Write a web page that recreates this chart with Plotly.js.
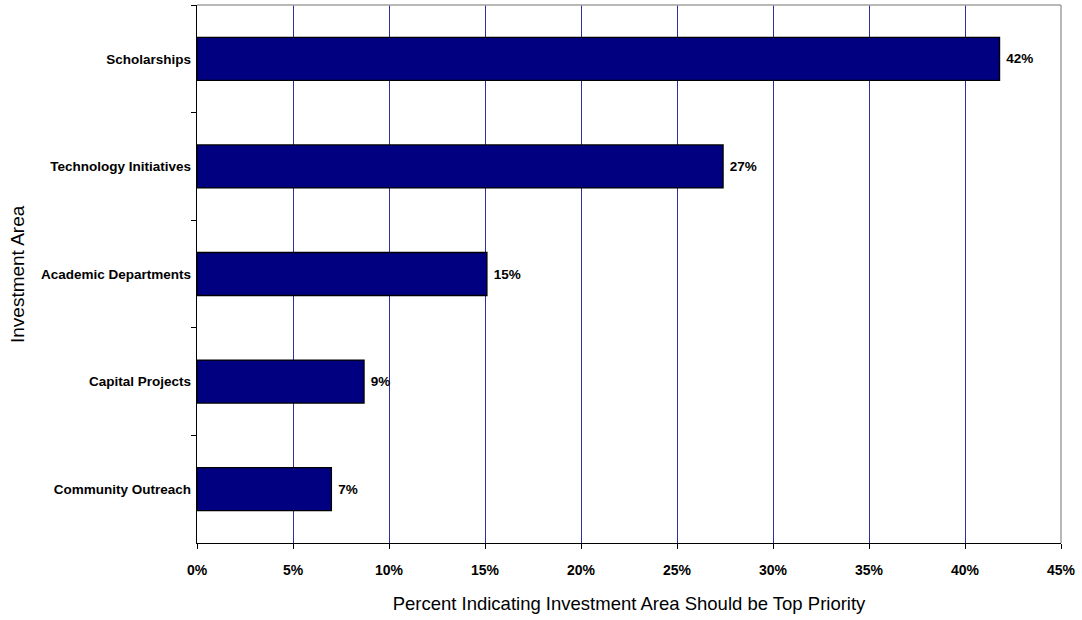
<!DOCTYPE html>
<html>
<head>
<meta charset="utf-8">
<script src="https://cdn.plot.ly/plotly-3.0.1.min.js"></script>
<style>
  html, body { margin: 0; padding: 0; background: #fff; }
  #chart { width: 1082px; height: 620px; }
</style>
</head>
<body>
<div id="chart"></div>
<script>
// Investment areas, top to bottom
const areas = [
  'Scholarships',
  'Technology Initiatives',
  'Academic Departments',
  'Capital Projects',
  'Community Outreach'
];
// Share of respondents naming each area as top priority
const shares = [0.418, 0.274, 0.151, 0.087, 0.070];
// Horizontal axis ticks
const tickValues = [0, 0.05, 0.10, 0.15, 0.20, 0.25, 0.30, 0.35, 0.40, 0.45];
const tickLabels = ['0%', '5%', '10%', '15%', '20%', '25%', '30%', '35%', '40%', '45%'];

const baseFont = 'Liberation Sans, Arial, sans-serif';

const trace = {
  type: 'bar',
  orientation: 'h',
  y: areas,
  x: shares,
  width: 0.4,
  marker: { color: '#000080', line: { color: '#000000', width: 1.3 } },
  texttemplate: '\u00a0%{x:.0%}',
  textposition: 'outside',
  cliponaxis: false,
  textfont: { family: baseFont, size: 13.5, color: '#000', weight: 'bold' },
  hoverinfo: 'skip'
};

const layout = {
  width: 1082,
  height: 620,
  margin: { l: 197, r: 21, t: 5, b: 77 },
  paper_bgcolor: '#ffffff',
  plot_bgcolor: '#ffffff',
  showlegend: false,
  bargap: 0.6,
  xaxis: {
    range: [0, 0.45],
    tickvals: tickValues,
    ticktext: tickLabels,
    showgrid: true,
    gridcolor: '#2e2ea6',
    gridwidth: 1,
    zeroline: false,
    showline: true,
    linecolor: '#000000',
    linewidth: 1.3,
    ticks: 'outside',
    ticklen: 5,
    tickcolor: '#000000',
    ticklabelstandoff: 9,
    tickfont: { family: baseFont, size: 14, color: '#000', weight: 'bold' },
    title: {
      text: 'Percent Indicating Investment Area Should be Top Priority',
      font: { family: baseFont, size: 18.5, color: '#000' },
      standoff: 20
    },
    fixedrange: true
  },
  yaxis: {
    type: 'category',
    autorange: 'reversed',
    showgrid: false,
    zeroline: false,
    showline: true,
    linecolor: '#000000',
    linewidth: 1.3,
    ticks: 'outside',
    tickson: 'boundaries',
    ticklen: 5,
    tickcolor: '#000000',
    ticklabelstandoff: 2,
    tickfont: { family: baseFont, size: 13.5, color: '#000', weight: 'bold' },
    fixedrange: true
  },
  // Vertical axis title, set close to the page edge
  annotations: [
    { text: 'Investment Area', textangle: -90, showarrow: false,
      xref: 'paper', yref: 'paper', x: -0.2083, y: 0.5,
      xanchor: 'center', yanchor: 'middle',
      font: { family: baseFont, size: 19, color: '#000' } }
  ],
  // Grey frame along the top and right of the plot area
  shapes: [
    { type: 'line', xref: 'paper', yref: 'paper', x0: 0, x1: 1, y0: 1, y1: 1,
      line: { color: '#a0a0a0', width: 1.5 } },
    { type: 'line', xref: 'paper', yref: 'paper', x0: 1, x1: 1, y0: 0, y1: 1,
      line: { color: '#a0a0a0', width: 1.5 } }
  ]
};

Plotly.newPlot('chart', [trace], layout, { displayModeBar: false, staticPlot: true });
</script>
</body>
</html>
